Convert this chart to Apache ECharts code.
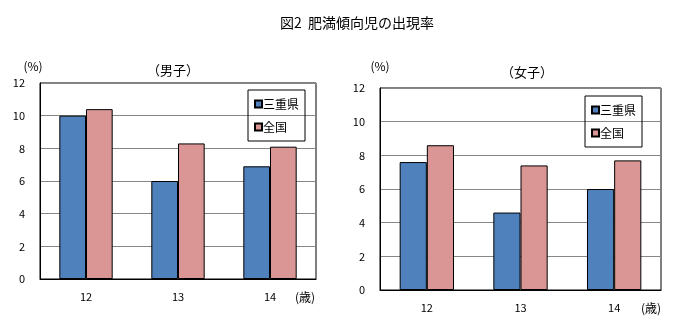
<!DOCTYPE html>
<html>
<head>
<meta charset="utf-8">
<script src="https://cdn.jsdelivr.net/npm/echarts@6/dist/echarts.min.js"></script>
<style>
  html, body { margin: 0; padding: 0; background: #fff; }
  #chart { width: 677px; height: 323px; }
</style>
</head>
<body>
<div id="chart"></div>
<script>
// Age categories and obesity-tendency rates (%)
const ages = ['12', '13', '14'];
const boysMie = [10.0, 6.0, 6.9];
const boysJapan = [10.4, 8.3, 8.1];
const girlsMie = [7.6, 4.6, 6.0];
const girlsJapan = [8.6, 7.4, 7.7];
const yTicks = { min: 0, max: 12, interval: 2 };

const FONT = '"Noto Sans CJK JP", "Noto Sans", sans-serif';
const BLUE = '#4F81BD';
const PINK = '#D99694';

const chart = echarts.init(document.getElementById('chart'), null, { renderer: 'canvas' });

function xAxisOf(gridIndex) {
  return {
    type: 'category', gridIndex, data: ages,
    axisLine: { lineStyle: { color: '#000', width: 1 } },
    axisTick: { show: false },
    axisLabel: { color: '#000', fontSize: 11, fontFamily: FONT, margin: 12 },
    splitLine: { show: false }
  };
}
function yAxisOf(gridIndex) {
  return {
    type: 'value', gridIndex, min: yTicks.min, max: yTicks.max, interval: yTicks.interval,
    axisLine: { show: true, lineStyle: { color: '#000', width: 1 } },
    axisTick: { show: false },
    axisLabel: { color: '#000', fontSize: 11, fontFamily: FONT, margin: 15 },
    splitLine: { lineStyle: { color: '#868686', width: 1 } }
  };
}
function barSeries(name, data, color, idx) {
  return {
    name, type: 'bar', data, xAxisIndex: idx, yAxisIndex: idx,
    barGap: '0%', barCategoryGap: '42%',
    itemStyle: { color, borderColor: '#000', borderWidth: 1 },
    emphasis: { disabled: true }
  };
}
function legendOf(left, top, w) {
  return {
    left, top, width: w, orient: 'vertical',
    data: ['三重県', '全国'],
    icon: 'rect', itemWidth: 7, itemHeight: 7, itemGap: 11,
    padding: [8, 6, 8, 6],
    borderColor: '#000', borderWidth: 1,
    textStyle: { color: '#000', fontSize: 12, fontFamily: FONT, padding: [0, 0, 0, -4] },
    selectedMode: false
  };
}
function text(x, y, str, size) {
  return { type: 'text', x, y, style: { text: str, fill: '#000', font: size + 'px ' + FONT, textAlign: 'center', textVerticalAlign: 'middle' } };
}

chart.setOption({
  animation: false,
  backgroundColor: '#fff',
  title: [
    { text: '図2  肥満傾向児の出現率', left: 352, top: 11, textAlign: 'center',
      textStyle: { fontSize: 14, fontWeight: 'normal', color: '#000', fontFamily: FONT } },
    { text: '（男子）', left: 168, top: 59, textAlign: 'center',
      textStyle: { fontSize: 13, fontWeight: 'normal', color: '#000', fontFamily: FONT } },
    { text: '（女子）', left: 522, top: 61, textAlign: 'center',
      textStyle: { fontSize: 13, fontWeight: 'normal', color: '#000', fontFamily: FONT } }
  ],
  grid: [
    { left: 40, top: 83, width: 276, height: 196, show: true, borderColor: '#000', borderWidth: 1, backgroundColor: 'transparent' },
    { left: 380, top: 88, width: 281, height: 202, show: true, borderColor: '#000', borderWidth: 1, backgroundColor: 'transparent' }
  ],
  xAxis: [xAxisOf(0), xAxisOf(1)],
  yAxis: [yAxisOf(0), yAxisOf(1)],
  legend: [legendOf(248, 90), legendOf(585, 96)],
  series: [
    barSeries('三重県', boysMie, BLUE, 0),
    barSeries('全国', boysJapan, PINK, 0),
    barSeries('三重県', girlsMie, BLUE, 1),
    barSeries('全国', girlsJapan, PINK, 1)
  ],
  graphic: [
    text(33, 66, '(%)', 12),
    text(380, 66, '(%)', 12),
    text(305, 297, '(歳)', 12),
    text(651, 308, '(歳)', 12)
  ]
});
</script>
</body>
</html>
